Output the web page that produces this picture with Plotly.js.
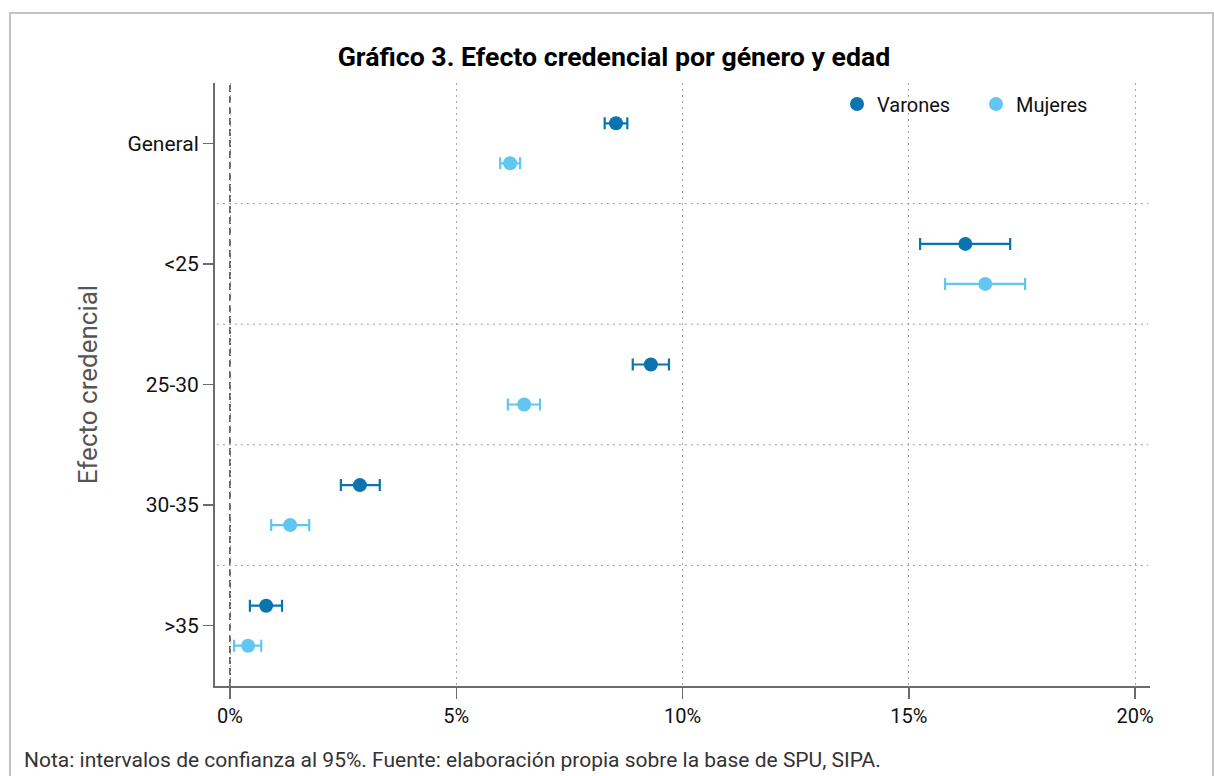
<!DOCTYPE html>
<html>
<head>
<meta charset="utf-8">
<script src="https://cdn.plot.ly/plotly-3.0.1.min.js"></script>
<style>
  html, body { margin: 0; padding: 0; background: #fff; }
  #chart { width: 1214px; height: 776px; }
  #frame { position: absolute; left: 9px; top: 12px; width: 1201px; height: 800px;
           border-left: 2px solid #c4c4c4; border-top: 2px solid #c4c4c4; border-right: 2px solid #c4c4c4;
           pointer-events: none; }
</style>
</head>
<body>
<div id="chart"></div>
<div id="frame"></div>
<script>
const categories = ["General", "<25", "25-30", "30-35", ">35"];
const varones = [8.53, 16.25, 9.30, 2.87, 0.80];
const varonesLo = [8.28, 15.25, 8.90, 2.45, 0.44];
const varonesHi = [8.78, 17.24, 9.70, 3.31, 1.15];
const mujeres = [6.19, 16.69, 6.50, 1.33, 0.40];
const mujeresLo = [5.97, 15.80, 6.14, 0.91, 0.09];
const mujeresHi = [6.41, 17.57, 6.85, 1.75, 0.69];
const xTicks = [0, 5, 10, 15, 20];

const offset = 0.166;
const idx = categories.map((c, i) => i);

function trace(name, vals, lo, hi, color, off) {
  return {
    type: "scatter", mode: "markers", name: name,
    x: vals, y: idx.map(i => i + off),
    marker: { color: color, size: 14 },
    error_x: { type: "data", symmetric: false,
      array: vals.map((v, i) => hi[i] - v),
      arrayminus: vals.map((v, i) => v - lo[i]),
      color: color, thickness: 2.2, width: 6 },
    hoverinfo: "x+name"
  };
}

const data = [
  trace("Varones", varones, varonesLo, varonesHi, "#0a74b0", -offset),
  trace("Mujeres", mujeres, mujeresLo, mujeresHi, "#62c6f2", offset)
];

const shapes = [];
for (let i = 0; i < categories.length - 1; i++) {
  shapes.push({ type: "line", xref: "paper", x0: 0.002, x1: 0.998, yref: "y", y0: i + 0.5, y1: i + 0.5,
    line: { color: "#9a9a9a", width: 1, dash: "2px,4px" }, layer: "below" });
}
shapes.push({ type: "line", xref: "x", x0: 0, x1: 0, yref: "paper", y0: 0, y1: 1,
  line: { color: "#444", width: 1.6, dash: "7px,4px" }, layer: "below" });

const layout = {
  width: 1214, height: 776,
  margin: { l: 215, r: 64, t: 83, b: 90 },
  paper_bgcolor: "#fff", plot_bgcolor: "#fff",
  font: { family: "Roboto, Arial, sans-serif", color: "#111", size: 20 },
  title: { text: "<b>Gráfico 3. Efecto credencial por género y edad</b>",
    x: 614 / 1214, xanchor: "center", y: 1 - 57 / 776, yanchor: "middle", yref: "container",
    font: { size: 26.7, color: "#000", family: "Roboto, Arial, sans-serif" } },
  xaxis: {
    range: [-0.3315, 20.33], tickvals: xTicks, ticktext: xTicks.map(v => v + "%"),
    showgrid: true, gridcolor: "#a8a8a8", griddash: "2px,4px", gridwidth: 1,
    zeroline: false, showline: true, linecolor: "#6b6b6b", linewidth: 2,
    ticks: "outside", ticklen: 11, tickwidth: 1.5, tickcolor: "#6b6b6b",
    tickfont: { size: 20, color: "#111" }, fixedrange: true
  },
  yaxis: {
    range: [4.5, -0.5], tickvals: idx, ticktext: categories,
    showgrid: false, zeroline: false, showline: true, linecolor: "#6b6b6b", linewidth: 2,
    ticks: "outside", ticklen: 10, tickwidth: 1.5, tickcolor: "#6b6b6b",
    tickfont: { size: 21, color: "#111" },
    title: { text: "Efecto credencial", font: { size: 26, color: "#555" }, standoff: 22 },
    fixedrange: true
  },
  showlegend: true,
  legend: { orientation: "h", x: (837 - 215) / 935, xanchor: "left", y: 1 - (104 - 83) / 603, yanchor: "middle",
    font: { size: 20, color: "#111" }, bgcolor: "rgba(0,0,0,0)", entrywidth: 94, itemwidth: 30 },
  shapes: shapes,
  annotations: [{
    text: "Nota: intervalos de confianza al 95%. Fuente: elaboración propia sobre la base de SPU, SIPA.",
    xref: "paper", yref: "paper", x: -193 / 935, y: -(760 - 686) / 603, xanchor: "left", yanchor: "middle",
    showarrow: false, font: { size: 21, color: "#333" }
  }]
};

Plotly.newPlot("chart", data, layout, { displayModeBar: false, staticPlot: true });
</script>
</body>
</html>
